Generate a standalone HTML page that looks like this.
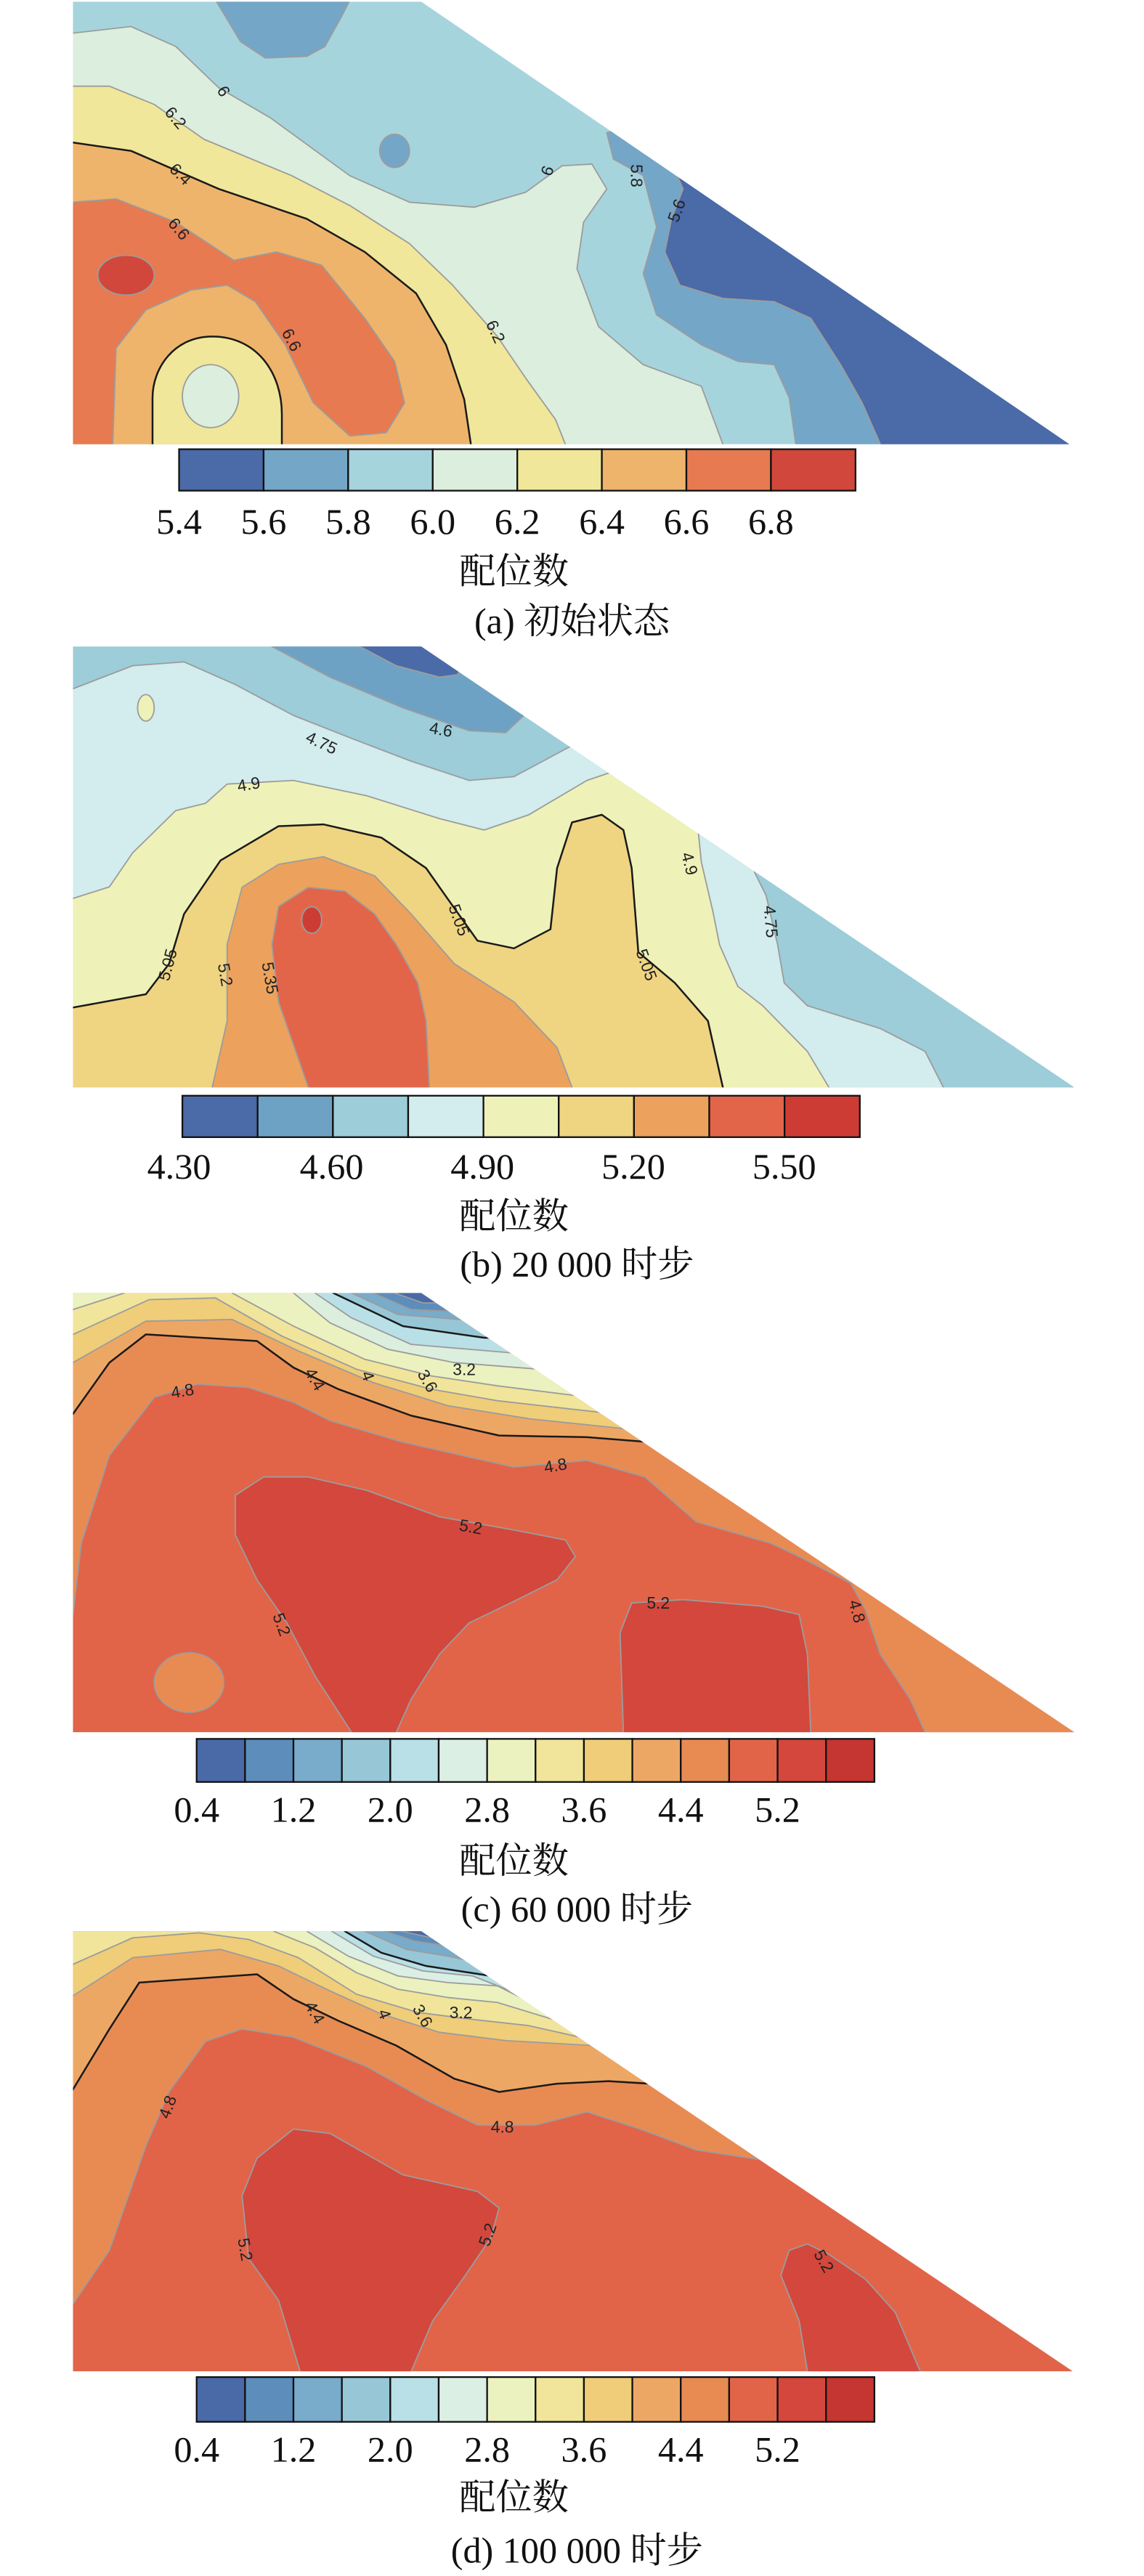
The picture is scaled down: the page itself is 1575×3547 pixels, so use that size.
<!DOCTYPE html>
<html><head><meta charset="utf-8"><style>
html,body{margin:0;padding:0;background:#fff;}
svg{display:block;}
.g{stroke:#9c9c9c;stroke-width:0.8;stroke-linejoin:round;}
.k{stroke:#1a1a1a;stroke-width:1.1;stroke-linejoin:round;}
.cl{font-family:"Liberation Sans",sans-serif;font-size:10px;fill:#222;text-anchor:middle;dominant-baseline:central;}
.tk{font-family:"Liberation Serif",serif;font-size:22px;fill:#111;text-anchor:middle;}
.cj{font-family:"Liberation Serif","Noto Serif CJK SC",serif;font-size:22px;fill:#111;text-anchor:middle;}
.cb{stroke:#111;stroke-width:1;}
</style></head><body>
<svg width="1575" height="3547" viewBox="0 0 690 1554" preserveAspectRatio="none" xmlns="http://www.w3.org/2000/svg">
<defs>
<clipPath id="ca"><polygon points="44,1 254,1 645,268 44,268"/></clipPath>
<clipPath id="cbp"><polygon points="44,390 254,390 648,656 44,656"/></clipPath>
<clipPath id="cc"><polygon points="44,780 254,780 648,1045 44,1045"/></clipPath>
<clipPath id="cd"><polygon points="44,1165 254,1165 647,1430.5 44,1430.5"/></clipPath>
</defs>

<!-- ===== Panel A ===== -->
<g clip-path="url(#ca)">
<rect x="0" y="0" width="700" height="300" fill="#a6d4dd"/>
<path class="g" fill="#74a6c8" d="M130,-5 L130,0 L145,25 L160,35 L185,34 L196,28 L206,10 L211,0 L211,-5 Z"/>
<path class="g" fill="#74a6c8" d="M366,80 L370,96 L388,106 L396,137 L388,165 L396,190 L423,208 L445,218 L467,220 L476,240 L480,268 L480,290 L700,290 L700,0 Z"/>
<path class="g" fill="#4a6aa8" d="M408,105 L412,114 L405,132 L401,152 L410,172 L436,180 L467,182 L489,192 L507,220 L520,243 L531,268 L531,290 L700,290 L700,0 Z"/>
<path class="g" fill="#dceedd" d="M0,20 L44,20 L79,16 L106,28 L132,53 L163,71 L211,106 L247,122 L286,125 L317,116 L339,100 L357,99 L366,114 L352,134 L348,162 L361,197 L388,220 L423,233 L436,268 L436,290 L0,290 Z"/>
<ellipse class="g" cx="238" cy="91" rx="9" ry="10" fill="#74a6c8"/>
<path class="g" fill="#f0e79a" d="M0,52 L44,52 L66,52 L93,63 L123,84 L176,106 L211,124 L247,147 L273,172 L300,203 L317,228 L335,253 L341,268 L341,290 L0,290 Z"/>
<path class="k" fill="#eeb46c" d="M0,86 L44,86 L79,91 L132,114 L185,132 L220,152 L251,177 L269,208 L280,241 L284,268 L284,290 L0,290 Z"/>
<path class="g" fill="#e77a50" d="M0,122 L44,122 L70,120 L106,134 L141,157 L167,152 L194,160 L220,192 L238,218 L244,243 L233,261 L211,263 L189,243 L172,208 L154,182 L137,172 L115,175 L88,187 L70,210 L68,268 L68,290 L0,290 Z"/>
<path class="k" fill="#f0e79a" d="M92,290 L92,240 C92,222 105,203 128,203 C155,203 170,225 170,250 L170,290 Z"/>
<ellipse class="g" cx="127" cy="239" rx="17" ry="19" fill="#dceedd"/>
<ellipse class="g" cx="76" cy="166" rx="17" ry="12" fill="#d2473b"/>
<text class="cl" transform="translate(135,55) rotate(60)">6</text>
<text class="cl" transform="translate(106,71) rotate(50)">6.2</text>
<text class="cl" transform="translate(109,105) rotate(45)">6.4</text>
<text class="cl" transform="translate(108,138) rotate(50)">6.6</text>
<text class="cl" transform="translate(176,205) rotate(62)">6.6</text>
<text class="cl" transform="translate(330,103) rotate(-70)">6</text>
<text class="cl" transform="translate(299,200) rotate(65)">6.2</text>
<text class="cl" transform="translate(384,106) rotate(90)">5.8</text>
<text class="cl" transform="translate(408,127) rotate(-70)">5.6</text>
</g>
<g class="cb">
<rect x="108" y="271" width="51" height="25" fill="#4a6aa8"/>
<rect x="159" y="271" width="51" height="25" fill="#74a6c8"/>
<rect x="210" y="271" width="51" height="25" fill="#a6d4dd"/>
<rect x="261" y="271" width="51" height="25" fill="#dceedd"/>
<rect x="312" y="271" width="51" height="25" fill="#f0e79a"/>
<rect x="363" y="271" width="51" height="25" fill="#eeb46c"/>
<rect x="414" y="271" width="51" height="25" fill="#e77a50"/>
<rect x="465" y="271" width="51" height="25" fill="#d2473b"/>
</g>
<text class="tk" x="108" y="322">5.4</text><text class="tk" x="159" y="322">5.6</text>
<text class="tk" x="210" y="322">5.8</text><text class="tk" x="261" y="322">6.0</text>
<text class="tk" x="312" y="322">6.2</text><text class="tk" x="363" y="322">6.4</text>
<text class="tk" x="414" y="322">6.6</text><text class="tk" x="465" y="322">6.8</text>
<text class="cj" x="310" y="352">配位数</text>
<text class="cj" x="345" y="382">(a) 初始状态</text>

<!-- ===== Panel B ===== -->
<g clip-path="url(#cbp)">
<rect x="0" y="380" width="700" height="300" fill="#9ccdd9"/>
<path class="g" fill="#d3ecee" d="M0,415 L44,415.5 L80,401.6 L111,399.3 L142,413 L177,431.6 L212,445.4 L248,459.2 L283,470.8 L310,468.5 L336,454.6 L350,447 L700,447 L700,700 L0,700 Z"/>
<path class="g" fill="#9ccdd9" d="M455,526 L462,540 L469,569.8 L473,593 L487,606.7 L531,620.5 L558,634.3 L569,656 L569,680 L700,680 L700,380 Z"/>
<path class="g" fill="#6ea2c4" d="M164,380 L164,390 L199,408.5 L243,427 L283,440.8 L305,442 L316,431.6 L330,420 L330,380 Z"/>
<path class="g" fill="#4a6aa8" d="M217,380 L217,390 L239,401.6 L265,408.5 L276,407 L290,380 Z"/>
<ellipse class="g" cx="88" cy="427" rx="5" ry="8" fill="#eef2b8"/>
<path class="g" fill="#eef2b8" d="M0,542 L44,542 L66,535 L80,514.5 L106,489 L124,484.6 L137,473 L177,470.8 L221,480 L265,493.8 L292,500.7 L319,491.5 L354,470.8 L380,462 L420,490 L423,520 L430,550 L434,570 L445,595 L460,606.7 L487,634.3 L500,656 L500,680 L0,680 Z"/>
<path class="k" fill="#efd482" d="M0,607.8 L44,607.8 L88,599.8 L102,581.4 L111,551.4 L133,519.1 L168,498.4 L195,497.3 L230,505.3 L257,523.7 L270,542.2 L288,567.5 L310,572.1 L332,560.6 L336,523.7 L345,496.1 L363,491.5 L376,500.7 L381,523.7 L385,574.4 L407,592.9 L427,615.9 L436,656 L436,680 L0,680 Z"/>
<path class="g" fill="#eca25c" d="M128,680 L128,656 L137,615.9 L137,569.8 L146,535.3 L168,521.4 L195,516.8 L226,528.4 L248,551.4 L274,581.4 L310,604.4 L336,632 L345,656 L345,680 Z"/>
<path class="g" fill="#e2654a" d="M186,680 L186,656 L168,604.4 L164,569.8 L168,546.8 L186,535.3 L208,537.6 L226,551.4 L239,569.8 L252,592.9 L257,615.9 L259,656 L259,680 Z"/>
<ellipse class="g" cx="188" cy="555" rx="6" ry="8" fill="#cd3c34"/>
<text class="cl" transform="translate(194,448) rotate(25)">4.75</text>
<text class="cl" transform="translate(266,440) rotate(10)">4.6</text>
<text class="cl" transform="translate(150,473) rotate(-10)">4.9</text>
<text class="cl" transform="translate(101,582) rotate(-75)">5.05</text>
<text class="cl" transform="translate(136,588) rotate(80)">5.2</text>
<text class="cl" transform="translate(163,590) rotate(80)">5.35</text>
<text class="cl" transform="translate(277,555) rotate(70)">5.05</text>
<text class="cl" transform="translate(390,582) rotate(70)">5.05</text>
<text class="cl" transform="translate(416,521) rotate(75)">4.9</text>
<text class="cl" transform="translate(465,556) rotate(85)">4.75</text>
</g>
<g class="cb">
<rect x="110" y="661" width="45.4" height="25" fill="#4a6aa8"/>
<rect x="155.4" y="661" width="45.4" height="25" fill="#6ea2c4"/>
<rect x="200.8" y="661" width="45.4" height="25" fill="#9ccdd9"/>
<rect x="246.2" y="661" width="45.4" height="25" fill="#d3ecee"/>
<rect x="291.6" y="661" width="45.4" height="25" fill="#eef2b8"/>
<rect x="337" y="661" width="45.4" height="25" fill="#efd482"/>
<rect x="382.4" y="661" width="45.4" height="25" fill="#eca25c"/>
<rect x="427.8" y="661" width="45.4" height="25" fill="#e2654a"/>
<rect x="473.2" y="661" width="45.4" height="25" fill="#cd3c34"/>
</g>
<text class="tk" x="108" y="711">4.30</text><text class="tk" x="200" y="711">4.60</text>
<text class="tk" x="291" y="711">4.90</text><text class="tk" x="382" y="711">5.20</text>
<text class="tk" x="473" y="711">5.50</text>
<text class="cj" x="310" y="741">配位数</text>
<text class="cj" x="348" y="770">(b) 20 000 时步</text>

<!-- ===== Panel C ===== -->
<g clip-path="url(#cc)">
<rect x="0" y="770" width="700" height="300" fill="#e16449"/>
<path class="g" fill="#e88b53" d="M0,974 L44,974 L49,931 L66,878 L93,843 L119,835 L150,837 L177,846 L199,857 L243,870 L310,885 L354,881 L389,891 L420,918 L465,931 L482,939 L513,955 L522,971 L531,998 L549,1025 L558,1045 L558,1070 L700,1070 L700,700 L0,700 Z"/>
<path class="k" fill="#eda764" d="M0,853 L44,853 L66,822 L88,805 L155,809 L177,825 L204,838 L248,854 L301,866 L354,867 L392,870 L700,870 L700,700 L0,700 Z"/>
<path class="g" fill="#efcd79" d="M0,822 L44,822 L88,797 L140,796 L180,815 L225,834 L270,848 L320,856 L378,862 L700,862 L700,700 L0,700 Z"/>
<path class="g" fill="#f0e59b" d="M0,805 L44,805 L90,784 L130,783 L170,806 L215,826 L260,838 L300,845 L362,852 L700,852 L700,700 L0,700 Z"/>
<path class="g" fill="#ecf2bf" d="M0,790 L44,790 L75,780 L75,700 L0,700 Z"/>
<path class="g" fill="#ecf2bf" d="M140,700 L140,780 L177,800 L220,820 L260,830 L300,836 L348,842 L700,842 L700,700 Z"/>
<path class="g" fill="#dceedd" d="M177,700 L177,780 L199,798 L234,814 L274,822 L325,826 L700,826 L700,700 Z"/>
<path class="g" fill="#b9e0e7" d="M190,700 L190,780 L212,795 L248,811 L307,816 L700,816 L700,700 Z"/>
<path class="k" fill="#97c6d6" d="M201,700 L201,780 L243,800 L292,807 L700,807 L700,700 Z"/>
<path class="g" fill="#79abca" d="M212,700 L212,780 L240,793 L277,796 L700,796 L700,700 Z"/>
<path class="g" fill="#5d8dbb" d="M225,700 L225,780 L248,790 L270,791 L700,791 L700,700 Z"/>
<path class="g" fill="#4a69a7" d="M238,700 L238,780 L255,786 L264,786 L700,786 L700,700 Z"/>
<path class="g" fill="#d3473c" d="M142,902 L159,891 L186,891 L221,899 L265,915 L310,923 L341,929 L347,939 L336,953 L310,966 L283,979 L265,998 L248,1025 L239,1045 L239,1070 L212,1070 L212,1045 L190,1011 L173,979 L155,953 L142,926 Z"/>
<path class="g" fill="#d3473c" d="M376,1070 L376,1045 L374,985 L381,967 L412,965 L460,969 L482,974 L487,998 L489,1045 L489,1070 Z"/>
<ellipse class="g" cx="114" cy="1015" rx="21" ry="18" fill="#e88b53"/>
<text class="cl" transform="translate(110,839) rotate(-10)">4.8</text>
<text class="cl" transform="translate(190,832) rotate(60)">4.4</text>
<text class="cl" transform="translate(222,830) rotate(70)">4</text>
<text class="cl" transform="translate(258,833) rotate(60)">3.6</text>
<text class="cl" transform="translate(280,826)">3.2</text>
<text class="cl" transform="translate(335,884) rotate(-10)">4.8</text>
<text class="cl" transform="translate(284,921) rotate(10)">5.2</text>
<text class="cl" transform="translate(170,980) rotate(70)">5.2</text>
<text class="cl" transform="translate(397,967)">5.2</text>
<text class="cl" transform="translate(517,972) rotate(75)">4.8</text>
</g>
<g class="cb">
<rect x="118.6" y="1049" width="29.2" height="26" fill="#4a69a7"/>
<rect x="147.8" y="1049" width="29.2" height="26" fill="#5d8dbb"/>
<rect x="177" y="1049" width="29.2" height="26" fill="#79abca"/>
<rect x="206.2" y="1049" width="29.2" height="26" fill="#97c6d6"/>
<rect x="235.4" y="1049" width="29.2" height="26" fill="#b9e0e7"/>
<rect x="264.6" y="1049" width="29.2" height="26" fill="#dcefe5"/>
<rect x="293.8" y="1049" width="29.2" height="26" fill="#ecf2bf"/>
<rect x="323" y="1049" width="29.2" height="26" fill="#f0e59b"/>
<rect x="352.2" y="1049" width="29.2" height="26" fill="#efcd79"/>
<rect x="381.4" y="1049" width="29.2" height="26" fill="#eda764"/>
<rect x="410.6" y="1049" width="29.2" height="26" fill="#e88b53"/>
<rect x="439.8" y="1049" width="29.2" height="26" fill="#e16449"/>
<rect x="469" y="1049" width="29.2" height="26" fill="#d3473c"/>
<rect x="498.2" y="1049" width="29.2" height="26" fill="#c53531"/>
</g>
<text class="tk" x="118.6" y="1099">0.4</text><text class="tk" x="177" y="1099">1.2</text>
<text class="tk" x="235.4" y="1099">2.0</text><text class="tk" x="293.8" y="1099">2.8</text>
<text class="tk" x="352.2" y="1099">3.6</text><text class="tk" x="410.6" y="1099">4.4</text>
<text class="tk" x="469" y="1099">5.2</text>
<text class="cj" x="310" y="1130">配位数</text>
<text class="cj" x="348" y="1159">(c) 60 000 时步</text>

<!-- ===== Panel D ===== -->
<g clip-path="url(#cd)">
<rect x="0" y="1155" width="700" height="300" fill="#e16449"/>
<path class="g" fill="#e88b53" d="M0,1390 L44,1390 L66,1357.5 L88,1294.5 L102,1261.8 L124,1231.5 L146,1224 L177,1229 L221,1246.6 L257,1266.8 L288,1282 L323,1282 L354,1274 L385,1284 L420,1297 L460,1303 L700,1303 L700,1100 L0,1100 Z"/>
<path class="k" fill="#eda764" d="M0,1260.5 L44,1260.5 L66,1224 L84,1196 L155,1191 L177,1206 L204,1219 L239,1234 L274,1254 L301,1262 L336,1257 L367,1255.5 L392,1257 L700,1257 L700,1100 L0,1100 Z"/>
<path class="g" fill="#efcd79" d="M0,1204 L44,1204 L80,1181 L133,1176 L168,1186 L199,1201 L230,1215 L265,1226 L305,1231 L358,1234 L700,1234 L700,1100 L0,1100 Z"/>
<path class="g" fill="#f0e59b" d="M0,1185 L44,1185 L80,1169 L120,1166 L150,1170 L180,1181 L215,1203 L252,1214 L283,1218 L319,1222 L350,1229 L700,1229 L700,1100 L0,1100 Z"/>
<path class="g" fill="#ecf2bf" d="M165,1100 L165,1165 L190,1175 L215,1190 L240,1200 L270,1205 L300,1208 L336,1219 L700,1219 L700,1100 Z"/>
<path class="g" fill="#dcefe5" d="M185,1100 L185,1165 L210,1180 L240,1192 L270,1196 L300,1198 L324,1210 L700,1210 L700,1100 Z"/>
<path class="g" fill="#b9e0e7" d="M200,1100 L200,1165 L225,1180 L255,1189 L285,1192 L308,1201 L700,1201 L700,1100 Z"/>
<path class="k" fill="#97c6d6" d="M208,1100 L208,1165 L230,1178 L257,1186 L283,1190 L296,1192 L700,1192 L700,1100 Z"/>
<path class="g" fill="#79abca" d="M220,1100 L220,1165 L245,1176 L270,1180 L284,1183 L700,1183 L700,1100 Z"/>
<path class="g" fill="#5d8dbb" d="M232,1100 L232,1165 L250,1171 L270,1174 L700,1174 L700,1100 Z"/>
<path class="g" fill="#4a69a7" d="M242,1100 L242,1165 L256,1168 L264,1170 L700,1170 L700,1100 Z"/>
<path class="g" fill="#d3473c" d="M181,1455 L181,1430.5 L168,1387.7 L150,1362.5 L146,1324.7 L155,1302 L177,1284.4 L199,1287 L243,1312 L288,1322 L301,1332 L296,1350 L279,1375 L261,1400 L248,1430.5 L248,1455 Z"/>
<path class="g" fill="#d3473c" d="M487,1455 L487,1430.5 L482,1400 L471,1372.6 L476,1357.5 L487,1353.7 L500,1360 L522,1375 L540,1395 L555,1430.5 L555,1455 Z"/>
<text class="cl" transform="translate(190,1214) rotate(60)">4.4</text>
<text class="cl" transform="translate(232,1215) rotate(70)">4</text>
<text class="cl" transform="translate(255,1216) rotate(60)">3.6</text>
<text class="cl" transform="translate(278,1214)">3.2</text>
<text class="cl" transform="translate(101,1271) rotate(-70)">4.8</text>
<text class="cl" transform="translate(303,1283)">4.8</text>
<text class="cl" transform="translate(148,1357) rotate(80)">5.2</text>
<text class="cl" transform="translate(294,1348) rotate(-70)">5.2</text>
<text class="cl" transform="translate(497,1364) rotate(60)">5.2</text>
</g>
<g class="cb">
<rect x="118.6" y="1434" width="29.2" height="27" fill="#4a69a7"/>
<rect x="147.8" y="1434" width="29.2" height="27" fill="#5d8dbb"/>
<rect x="177" y="1434" width="29.2" height="27" fill="#79abca"/>
<rect x="206.2" y="1434" width="29.2" height="27" fill="#97c6d6"/>
<rect x="235.4" y="1434" width="29.2" height="27" fill="#b9e0e7"/>
<rect x="264.6" y="1434" width="29.2" height="27" fill="#dcefe5"/>
<rect x="293.8" y="1434" width="29.2" height="27" fill="#ecf2bf"/>
<rect x="323" y="1434" width="29.2" height="27" fill="#f0e59b"/>
<rect x="352.2" y="1434" width="29.2" height="27" fill="#efcd79"/>
<rect x="381.4" y="1434" width="29.2" height="27" fill="#eda764"/>
<rect x="410.6" y="1434" width="29.2" height="27" fill="#e88b53"/>
<rect x="439.8" y="1434" width="29.2" height="27" fill="#e16449"/>
<rect x="469" y="1434" width="29.2" height="27" fill="#d3473c"/>
<rect x="498.2" y="1434" width="29.2" height="27" fill="#c53531"/>
</g>
<text class="tk" x="118.6" y="1485">0.4</text><text class="tk" x="177" y="1485">1.2</text>
<text class="tk" x="235.4" y="1485">2.0</text><text class="tk" x="293.8" y="1485">2.8</text>
<text class="tk" x="352.2" y="1485">3.6</text><text class="tk" x="410.6" y="1485">4.4</text>
<text class="tk" x="469" y="1485">5.2</text>
<text class="cj" x="310" y="1514">配位数</text>
<text class="cj" x="348" y="1546">(d) 100 000 时步</text>
</svg>
</body></html>
